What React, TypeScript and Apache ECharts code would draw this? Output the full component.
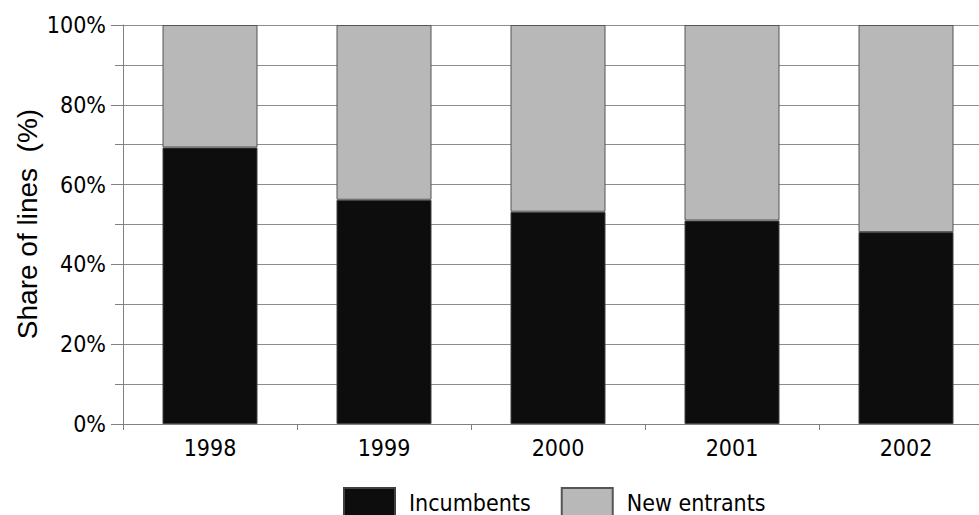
import React, { useEffect, useRef } from "react";
import * as echarts from "echarts";

const years = ["1998", "1999", "2000", "2001", "2002"];
const incumbents = [69.3, 56.2, 53.2, 51.0, 48.1];
const newEntrants = [30.7, 43.8, 46.8, 49.0, 51.9];
const seriesNames = ["Incumbents", "New entrants"];
const yTitle = "Share of lines  (%)";

const FONT = "'DejaVu Sans Condensed', 'DejaVu Sans', sans-serif";

export default function App() {
  const ref = useRef<HTMLDivElement>(null);
  useEffect(() => {
    if (!ref.current) return;
    const chart = echarts.init(ref.current, null, { renderer: "svg" });
    chart.setOption({
      animation: false,
      backgroundColor: "#ffffff",
      grid: { left: 123, top: 25, bottom: 91, right: 0, containLabel: false },
      xAxis: {
        type: "category",
        data: years,
        boundaryGap: true,
        axisLine: { show: true, lineStyle: { color: "#808080", width: 1 } },
        axisTick: { show: true, length: 6, alignWithLabel: false, lineStyle: { color: "#808080" } },
        axisLabel: { color: "#000", fontFamily: FONT, fontSize: 23, margin: 12 },
        splitLine: { show: false },
      },
      yAxis: {
        type: "value",
        min: 0,
        max: 100,
        interval: 20,
        axisLine: { show: true, lineStyle: { color: "#808080", width: 1 } },
        axisTick: { show: true, length: 12, lineStyle: { color: "#808080" } },
        minorTick: { show: true, splitNumber: 2, length: 8, lineStyle: { color: "#808080" } },
        splitLine: { show: true, lineStyle: { color: "#8c8c8c", width: 1 } },
        minorSplitLine: { show: true, lineStyle: { color: "#8c8c8c", width: 1 } },
        axisLabel: {
          color: "#000",
          fontFamily: FONT,
          fontSize: 23,
          margin: 17,
          formatter: (v: number) => v + "%",
        },
      },
      legend: {
        top: 482,
        left: 338,
        itemWidth: 51,
        itemHeight: 30,
        itemGap: 30,
        icon: "rect",
        data: seriesNames,
        textStyle: { color: "#000", fontFamily: FONT, fontSize: 23, padding: [0, 0, 0, 9] },
      },
      graphic: [
        {
          type: "text",
          x: 27,
          y: 224,
          rotation: Math.PI / 2,
          style: {
            text: yTitle,
            fill: "#000",
            font: "28px 'Liberation Sans', Arial, sans-serif",
            align: "center",
            verticalAlign: "middle",
          },
        },
      ],
      series: [
        {
          name: seriesNames[0],
          type: "bar",
          stack: "total",
          barWidth: 95,
          data: incumbents,
          itemStyle: { color: "#0d0d0d", borderColor: "#404040", borderWidth: 1 },
        },
        {
          name: seriesNames[1],
          type: "bar",
          stack: "total",
          barWidth: 95,
          data: newEntrants,
          itemStyle: { color: "#b8b8b8", borderColor: "#555555", borderWidth: 1 },
        },
      ],
    });
    return () => chart.dispose();
  }, []);
  return (
    <div
      style={{
        position: "fixed",
        left: 0,
        top: 0,
        width: 979,
        height: 515,
        overflow: "hidden",
        background: "#fff",
      }}
    >
      <div ref={ref} style={{ width: 993, height: 515 }} />
    </div>
  );
}
